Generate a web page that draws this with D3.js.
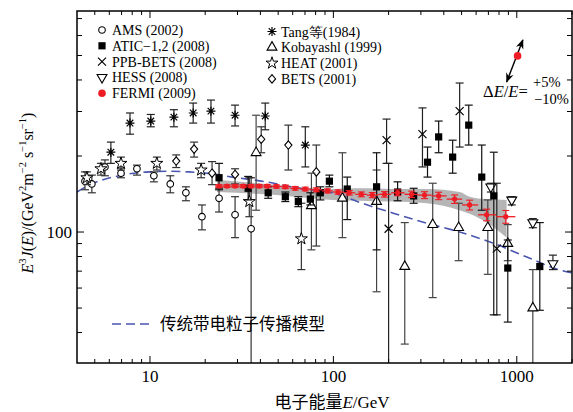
<!DOCTYPE html>
<html>
<head>
<meta charset="utf-8">
<title>electron spectrum</title>
<script src="https://cdn.jsdelivr.net/npm/d3@7"></script>
<style>
  body { margin: 0; background: #fff; }
  svg { display: block; }
</style>
</head>
<body>
<script>
// 每个点: [E (GeV), E^3J, 下限, 上限]
var ams = [
  [4.42, 159, 147, 173], [4.82, 155, 143, 168], [5.68, 181, 167, 193],
  [6.95, 171, 164, 179], [8.49, 178, 168, 184], [10.5, 167, 158, 173],
  [12.9, 155, 143, 167], [15.7, 143, 133, 151], [19.2, 115, 102, 128],
  [23.8, 136, 120, 149], [29.1, 117, 95, 138], [35.6, 103, 25, 164]
];
var atic = [
  [23.8, 164, 147, 187], [34.3, 149, 134, 166], [44.1, 143, 136, 151],
  [54.7, 138, 132, 144], [64.4, 132, 126, 138], [74.9, 135, 128, 143],
  [84.9, 143, 134, 151], [95.1, 159, 151, 168], [119, 148, 112, 165],
  [172, 151, 85, 206], [224, 144, 133, 158], [274, 139, 130, 149],
  [326, 189, 165, 217], [375, 238, 206, 275], [447, 198, 171, 231],
  [547, 265, 221, 318], [644, 165, 122, 221], [749, 139, 47, 207],
  [893, 72, 44, 93], [1335, 73, 49, 109]
];
var ppb = [
  [195, 231, 187, 280], [306, 244, 181, 310], [488, 301, 217, 389],
  [200, 103, 25, 187], [778, 86, 47, 156]
];
var hess = [
  [722, 151, 144, 156], [939, 134, 128, 138], [1223, 109, 104, 113], [1574, 75, 71, 81]
];
var tang = [
  [6.12, 207, 187, 227], [7.78, 270, 244, 296], [10.1, 275, 261, 292],
  [13.5, 285, 261, 305], [17.2, 296, 270, 324], [21.5, 301, 270, 333],
  [29.1, 290, 263, 318], [42.5, 288, 254, 324], [70.3, 221, 181, 261]
];
var kobayashi = [
  [37.9, 206, 122, 290], [75.9, 127, 85, 171], [112, 136, 95, 206],
  [172, 132, 58, 176], [245, 73, 36, 109], [348, 107, 55, 156],
  [482, 104, 77, 130], [695, 104, 68, 134], [893, 90, 77, 107],
  [1223, 50, 25, 71]
];
var heat = [
  [4.53, 164, 154, 173], [5.40, 178, 168, 187], [6.95, 187, 176, 198],
  [10.9, 187, 176, 198], [19.0, 176, 164, 187], [34.8, 132, 115, 164],
  [66.9, 94, 71, 130]
];
var bets = [
  [13.9, 191, 180, 202], [17.4, 213, 198, 227], [21.8, 171, 154, 190],
  [29.1, 169, 155, 178], [40.4, 233, 206, 261], [56.8, 221, 176, 265],
  [80.7, 173, 88, 221]
];

// FERMI (2009)
var fermiE = [23.8, 26.3, 29.1, 32.2, 35.6, 39.4, 43.6, 48.9, 54.7, 61.9, 70.3, 80.7, 92.9,
              106, 122, 142, 163, 190, 224, 267, 314, 375, 458, 553, 685, 871];
var fermiV = [152, 152, 152, 152, 152, 152, 152, 151.5, 151, 149, 148, 147, 145.5,
              144, 143, 141, 140, 141, 143, 141, 140, 139, 135, 128, 117, 115];
var fermiErr = [0.8, 0.8, 0.8, 0.9, 0.9, 1, 1, 1, 1.2, 1.2, 1.3, 1.4, 1.5,
                1.6, 1.7, 1.9, 2.1, 2.3, 2.6, 2.9, 3.2, 3.5, 4, 4.5, 5, 5.5];
// 灰色系统误差带
var bandE = [23.2, 43, 98.8, 139, 210, 322, 488, 553, 685, 880];
var bandLo = [144, 141, 134, 133, 132, 130, 122, 118, 109, 95];
var bandHi = [161, 155, 148, 149, 148, 148, 144, 138, 135, 134];

// 传统带电粒子传播模型
var modelE = [4.0, 4.47, 7.03, 9.9, 13.2, 16.3, 21.8, 28.1, 43, 65.2, 98.8, 139,
              210, 322, 488, 739, 1135, 1718, 2023];
var modelV = [144, 151, 168, 173, 174, 173, 170, 165, 158, 149, 143, 131,
              119, 108.5, 100, 90.5, 79.6, 70.7, 68.8];

var yTicks = [40, 50, 60, 70, 80, 90, 100, 200, 300, 400, 500, 600, 700];
var yLabels = [100];
var xTicks = [5, 6, 7, 8, 9, 10, 20, 30, 40, 50, 60, 70, 80, 90, 100,
              200, 300, 400, 500, 600, 700, 800, 900, 1000, 2000];
var xLabels = [10, 100, 1000];

var W = 573, H = 412;
var padL = 77, padR = 572, padT = 11, padB = 363;
var serif = "'Liberation Serif','DejaVu Serif',serif";
var cjk = "'Noto Sans CJK SC','Noto Sans',sans-serif";

var x = d3.scaleLog().domain([4, 2000]).range([padL, padR]);
var y = d3.scaleLog().domain([30.3, 750]).range([padB, padT]);

var svg = d3.select("body").append("svg")
  .attr("width", W).attr("height", H);

var defs = svg.append("defs");
defs.append("clipPath").attr("id", "clip")
  .append("rect").attr("x", padL).attr("y", padT)
  .attr("width", padR - padL).attr("height", padB - padT);

var plot = svg.append("g").attr("clip-path", "url(#clip)");

// 灰带
var band = d3.area()
  .x(function(d, i) { return x(bandE[i]); })
  .y0(function(d, i) { return y(bandLo[i]); })
  .y1(function(d, i) { return y(bandHi[i]); })
  .curve(d3.curveMonotoneX);
plot.append("path").datum(bandE).attr("d", band)
  .attr("fill", "#a8a8a8").attr("opacity", 0.85);

// 模型曲线
var line = d3.line()
  .x(function(d, i) { return x(modelE[i]); })
  .y(function(d, i) { return y(modelV[i]); })
  .curve(d3.curveMonotoneX);
plot.append("path").datum(modelE).attr("d", line)
  .attr("fill", "none").attr("stroke", "#4a56b0")
  .attr("stroke-width", 1.6).attr("stroke-dasharray", "9,5");

// 标记形状
function drawMarker(g, type) {
  var s;
  if (type === "circle") {
    g.append("circle").attr("r", 3.3).attr("fill", "#fff").attr("stroke", "#000").attr("stroke-width", 1.1);
  } else if (type === "square") {
    g.append("rect").attr("x", -3.6).attr("y", -3.6).attr("width", 7.2).attr("height", 7.2).attr("fill", "#000");
  } else if (type === "cross") {
    g.append("path").attr("d", "M-4,-4L4,4M-4,4L4,-4").attr("stroke", "#000").attr("stroke-width", 1.2);
  } else if (type === "asterisk") {
    g.append("path").attr("d", "M0,-4.5V4.5M-4.5,0H4.5M-3.3,-3.3L3.3,3.3M-3.3,3.3L3.3,-3.3")
      .attr("stroke", "#000").attr("stroke-width", 1.2);
  } else if (type === "triangle") {
    s = d3.symbol().type(d3.symbolTriangle).size(42);
    g.append("path").attr("d", s()).attr("fill", "#fff").attr("stroke", "#000").attr("stroke-width", 1.1);
  } else if (type === "down") {
    s = d3.symbol().type(d3.symbolTriangle).size(42);
    g.append("path").attr("d", s()).attr("transform", "rotate(180)")
      .attr("fill", "#fff").attr("stroke", "#000").attr("stroke-width", 1.1);
  } else if (type === "star") {
    s = d3.symbol().type(d3.symbolStar).size(45);
    g.append("path").attr("d", s()).attr("fill", "#fff").attr("stroke", "#000").attr("stroke-width", 1);
  } else if (type === "diamond") {
    g.append("path").attr("d", "M0,-4.2L3.6,0L0,4.2L-3.6,0Z")
      .attr("fill", "#fff").attr("stroke", "#000").attr("stroke-width", 1.1);
  } else if (type === "fermi") {
    g.append("circle").attr("r", 3.8).attr("fill", "#ee1c24");
  }
}

var series = [
  { data: ams, type: "circle", color: "#333" },
  { data: bets, type: "diamond", color: "#333" },
  { data: heat, type: "star", color: "#333" },
  { data: kobayashi, type: "triangle", color: "#444" },
  { data: tang, type: "asterisk", color: "#222" },
  { data: ppb, type: "cross", color: "#222" },
  { data: hess, type: "down", color: "#222" },
  { data: atic, type: "square", color: "#111" }
];

series.forEach(function(s) {
  var g = plot.append("g");
  var pts = g.selectAll("g.pt").data(s.data).enter().append("g").attr("class", "pt");
  pts.append("line")
    .attr("x1", function(d) { return x(d[0]); }).attr("x2", function(d) { return x(d[0]); })
    .attr("y1", function(d) { return y(d[2]); }).attr("y2", function(d) { return y(d[3]); })
    .attr("stroke", s.color).attr("stroke-width", 1.2);
  [2, 3].forEach(function(k) {
    pts.append("line")
      .attr("x1", function(d) { return x(d[0]) - 4; }).attr("x2", function(d) { return x(d[0]) + 4; })
      .attr("y1", function(d) { return y(d[k]); }).attr("y2", function(d) { return y(d[k]); })
      .attr("stroke", s.color).attr("stroke-width", 1.2);
  });
  pts.append("g")
    .attr("transform", function(d) { return "translate(" + x(d[0]) + "," + y(d[1]) + ")"; })
    .each(function() { drawMarker(d3.select(this), s.type); });
});

// FERMI 数据
var fermi = fermiE.map(function(e, i) {
  var lo = i === 0 ? e / Math.sqrt(fermiE[1] / fermiE[0]) : Math.sqrt(e * fermiE[i - 1]);
  var hi = i === fermiE.length - 1 ? e * Math.sqrt(e / fermiE[i - 1]) : Math.sqrt(e * fermiE[i + 1]);
  return { e: e, v: fermiV[i], err: fermiErr[i], lo: lo, hi: hi };
});
var fg = plot.append("g");
fg.selectAll("line.h").data(fermi).enter().append("line")
  .attr("x1", function(d) { return x(d.lo); }).attr("x2", function(d) { return x(d.hi); })
  .attr("y1", function(d) { return y(d.v); }).attr("y2", function(d) { return y(d.v); })
  .attr("stroke", "#ee1c24").attr("stroke-width", 1.3);
fg.selectAll("line.v").data(fermi).enter().append("line")
  .attr("x1", function(d) { return x(d.e); }).attr("x2", function(d) { return x(d.e); })
  .attr("y1", function(d) { return y(d.v - d.err - 1.2); }).attr("y2", function(d) { return y(d.v + d.err + 1.2); })
  .attr("stroke", "#ee1c24").attr("stroke-width", 1.2);
[-1, 1].forEach(function(sg) {
  fg.selectAll(null).data(fermi).enter().append("line")
    .attr("x1", function(d) { return x(d.e) - 3.5; }).attr("x2", function(d) { return x(d.e) + 3.5; })
    .attr("y1", function(d) { return y(d.v + sg * (d.err + 1.2)); })
    .attr("y2", function(d) { return y(d.v + sg * (d.err + 1.2)); })
    .attr("stroke", "#ee1c24").attr("stroke-width", 1.1);
});
fg.selectAll("circle").data(fermi).enter().append("circle")
  .attr("cx", function(d) { return x(d.e); }).attr("cy", function(d) { return y(d.v); })
  .attr("r", 2.6).attr("fill", "#ee1c24");

// 坐标轴
function tickX(d) { return xLabels.indexOf(d) >= 0 ? 7 : 4; }
function tickY(d) { return yLabels.indexOf(d) >= 0 ? 7 : 5; }

var ax = svg.append("g").attr("stroke", "#000").attr("stroke-width", 1);
ax.selectAll("line.xb").data(xTicks).enter().append("line")
  .attr("x1", function(d) { return x(d); }).attr("x2", function(d) { return x(d); })
  .attr("y1", padB).attr("y2", function(d) { return padB - tickX(d); });
ax.selectAll("line.xt").data(xTicks).enter().append("line")
  .attr("x1", function(d) { return x(d); }).attr("x2", function(d) { return x(d); })
  .attr("y1", padT).attr("y2", function(d) { return padT + tickX(d); });
ax.selectAll("line.yl").data(yTicks).enter().append("line")
  .attr("y1", function(d) { return y(d); }).attr("y2", function(d) { return y(d); })
  .attr("x1", padL).attr("x2", function(d) { return padL + tickY(d); });
ax.selectAll("line.yr").data(yTicks).enter().append("line")
  .attr("y1", function(d) { return y(d); }).attr("y2", function(d) { return y(d); })
  .attr("x1", padR).attr("x2", function(d) { return padR - tickY(d); });

svg.append("rect").attr("x", padL).attr("y", padT)
  .attr("width", padR - padL).attr("height", padB - padT)
  .attr("fill", "none").attr("stroke", "#000").attr("stroke-width", 1.5);

svg.selectAll("text.xl").data(xLabels).enter().append("text")
  .attr("x", function(d) { return x(d); }).attr("y", 382)
  .attr("text-anchor", "middle").attr("font-family", serif).attr("font-size", 17)
  .text(function(d) { return d; });
svg.selectAll("text.yl").data(yLabels).enter().append("text")
  .attr("x", 72).attr("y", function(d) { return y(d) + 6; })
  .attr("text-anchor", "end").attr("font-family", serif).attr("font-size", 17)
  .text(function(d) { return d; });

// 轴标题
var xt = svg.append("text").attr("x", 332).attr("y", 408).attr("text-anchor", "middle")
  .attr("font-size", 17);
xt.append("tspan").attr("font-family", cjk).text("电子能量");
xt.append("tspan").attr("font-family", serif).attr("font-style", "italic").text("E");
xt.append("tspan").attr("font-family", serif).text("/GeV");

var yt = svg.append("text").attr("transform", "translate(33,193) rotate(-90)")
  .attr("text-anchor", "middle").attr("font-family", serif).attr("font-size", 16);
yt.append("tspan").attr("font-style", "italic").text("E");
yt.append("tspan").attr("font-size", 10.5).attr("dy", -7).text("3");
yt.append("tspan").attr("font-style", "italic").attr("dy", 7).text("J");
yt.append("tspan").text("(");
yt.append("tspan").attr("font-style", "italic").text("E");
yt.append("tspan").text(")/(GeV");
yt.append("tspan").attr("font-size", 10.5).attr("dy", -7).text("2");
yt.append("tspan").attr("dy", 7).text("m");
yt.append("tspan").attr("font-size", 10.5).attr("dy", -7).text("−2");
yt.append("tspan").attr("dy", 7).text(" s");
yt.append("tspan").attr("font-size", 10.5).attr("dy", -7).text("−1");
yt.append("tspan").attr("dy", 7).text("sr");
yt.append("tspan").attr("font-size", 10.5).attr("dy", -7).text("−1");
yt.append("tspan").attr("dy", 7).text(")");

// 图例
var legLeft = [["circle", "AMS (2002)"], ["square", "ATIC−1,2 (2008)"], ["cross", "PPB-BETS (2008)"],
               ["down", "HESS (2008)"], ["fermi", "FERMI (2009)"]];
var legRight = [["asterisk", "Tang等(1984)"], ["triangle", "Kobayashl (1999)"],
                ["star", "HEAT (2001)"], ["diamond", "BETS (2001)"]];
function legend(items, mx, tx, y0, dy) {
  items.forEach(function(it, i) {
    var cy = y0 + i * dy;
    drawMarker(svg.append("g").attr("transform", "translate(" + mx + "," + cy + ")"), it[0]);
    svg.append("text").attr("x", tx).attr("y", cy + 5).attr("font-family", serif)
      .attr("font-size", 14).text(it[1]);
  });
}
legend(legLeft, 102, 112, 30, 15.8);
legend(legRight, 272, 281, 31.5, 15.8);

// 能量标度误差
var scaleMark = { e: 1010, v: 498, e0: 881, v0: 393, e1: 1079, v1: 576 };
defs.append("marker").attr("id", "ah").attr("viewBox", "0 0 10 10")
  .attr("refX", 9).attr("refY", 5).attr("markerWidth", 7).attr("markerHeight", 7)
  .attr("orient", "auto-start-reverse")
  .append("path").attr("d", "M0,1L10,5L0,9L3,5Z").attr("fill", "#000");
svg.append("line").attr("x1", x(scaleMark.e0)).attr("y1", y(scaleMark.v0))
  .attr("x2", x(scaleMark.e1)).attr("y2", y(scaleMark.v1))
  .attr("stroke", "#000").attr("stroke-width", 1.4)
  .attr("marker-start", "url(#ah)").attr("marker-end", "url(#ah)");
svg.append("circle").attr("cx", x(scaleMark.e)).attr("cy", y(scaleMark.v)).attr("r", 3.8).attr("fill", "#ee1c24");
var dt = svg.append("text").attr("x", 483).attr("y", 97).attr("font-family", serif).attr("font-size", 16.5);
dt.append("tspan").text("Δ");
dt.append("tspan").attr("font-style", "italic").text("E");
dt.append("tspan").text("/");
dt.append("tspan").attr("font-style", "italic").text("E");
dt.append("tspan").text("=");
svg.append("text").attr("x", 533).attr("y", 87).attr("font-family", serif).attr("font-size", 14.5).text("+5%");
svg.append("text").attr("x", 534).attr("y", 104).attr("font-family", serif).attr("font-size", 14.5).text("−10%");

// 模型图例
svg.append("line").attr("x1", 112).attr("x2", 152).attr("y1", 324).attr("y2", 324)
  .attr("stroke", "#4a56b0").attr("stroke-width", 1.6).attr("stroke-dasharray", "9,5");
svg.append("text").attr("x", 160).attr("y", 330).attr("font-family", cjk).attr("font-size", 16.5)
  .text("传统带电粒子传播模型");
</script>
</body>
</html>
